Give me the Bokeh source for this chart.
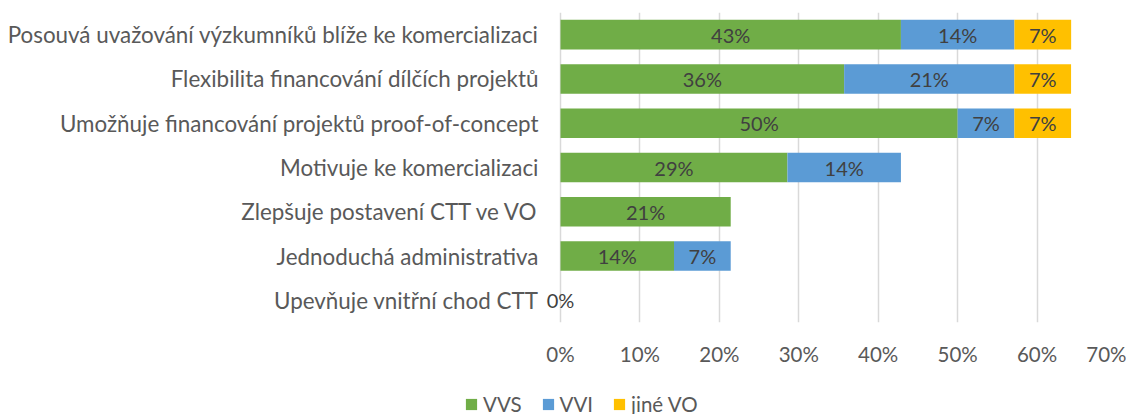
from bokeh.plotting import figure
from bokeh.layouts import column
from bokeh.models import (ColumnDataSource, FactorRange, Legend, LegendItem, FixedTicker,
                          CustomJSTickFormatter, Label)
from bokeh.embed import file_html
from bokeh.resources import INLINE

categories = [
    "Posouvá uvažování výzkumníků blíže ke komercializaci",
    "Flexibilita financování dílčích projektů",
    "Umožňuje financování projektů proof-of-concept",
    "Motivuje ke komercializaci",
    "Zlepšuje postavení CTT ve VO",
    "Jednoduchá administrativa",
    "Upevňuje vnitřní chod CTT",
]
vvs = [42.86, 35.71, 50.0, 28.57, 21.43, 14.29, 0.0]
vvi = [14.29, 21.43, 7.14, 14.29, 0.0, 7.14, 0.0]
jine = [7.14, 7.14, 7.14, 0.0, 0.0, 0.0, 0.0]
series_names = ["VVS", "VVI", "jiné VO"]
colors = ["#70AD47", "#5B9BD5", "#FFC000"]
x_ticks = [0, 10, 20, 30, 40, 50, 60, 70]

FONT = "Lato"
TXT = "#404040"
AX = "#595959"

src = ColumnDataSource(dict(cat=categories, vvs=vvs, vvi=vvi, jine=jine))

yr = FactorRange(*reversed(categories), range_padding=0)
# a little room left of 0 so that the "0%" label is not clipped by the frame
p = figure(frame_width=576, frame_height=310, output_backend="svg", toolbar_location=None,
           y_range=yr, x_range=(-2.518, 70),
           min_border_left=540, min_border_right=10, min_border_top=12, min_border_bottom=0)
p.outline_line_color = None

renderers = p.hbar_stack(["vvs", "vvi", "jine"], y="cat", height=0.667, color=colors,
                         source=src, line_color=None)

factors = list(yr.factors)
for i, c in enumerate(categories):
    yc = factors.index(c) + 0.5  # synthetic coordinate of the factor's centre
    left = 0.0
    for k, vals in enumerate([vvs, vvi, jine]):
        v = vals[i]
        if v > 0 or k == 0:
            p.add_layout(Label(x=left + v / 2, y=yc, text=f"{round(v):d}%",
                               text_align="center", text_baseline="middle",
                               text_font=FONT, text_font_size="20px", text_color=TXT))
        left += v

p.xgrid.ticker = FixedTicker(ticks=x_ticks)
p.xgrid.grid_line_color = "#D9D9D9"
p.xgrid.grid_line_width = 1.5
p.ygrid.grid_line_color = None

p.xaxis.ticker = FixedTicker(ticks=x_ticks)
p.xaxis.formatter = CustomJSTickFormatter(code="return tick.toFixed(0) + '%';")
p.xaxis.axis_line_color = None
p.xaxis.major_tick_line_color = None
p.xaxis.minor_tick_line_color = None
p.xaxis.major_tick_out = 0
p.xaxis.major_tick_in = 0
p.xaxis.major_label_text_font = FONT
p.xaxis.major_label_text_font_size = "20.5px"
p.xaxis.major_label_text_color = AX
p.xaxis.major_label_standoff = 19

p.yaxis.axis_line_color = None
p.yaxis.major_tick_line_color = None
p.yaxis.minor_tick_line_color = None
p.yaxis.major_tick_out = 0
p.yaxis.major_tick_in = 0
p.yaxis.major_label_text_font = FONT
p.yaxis.major_label_text_font_size = "22.4px"
p.yaxis.major_label_text_color = AX
p.yaxis.major_label_standoff = 2

# legend strip below the chart (its helper bars lie outside its visible range)
lg = figure(frame_width=1126, frame_height=48, output_backend="svg", toolbar_location=None,
            x_range=(-20, -10), y_range=(0, 1), min_border=0)
lg.outline_line_color = None
lg.axis.visible = False
lg.grid.visible = False
lg_r = [lg.vbar(x=col, top=1, width=0.5, source=src, fill_color=c, line_color=None)
        for col, c in zip(["vvs", "vvi", "jine"], colors)]
legend = Legend(items=[LegendItem(label=n, renderers=[r]) for n, r in zip(series_names, lg_r)],
                orientation="horizontal", location=(464, 0),
                label_text_font=FONT, label_text_font_size="20.5px", label_text_color=AX,
                glyph_width=14, glyph_height=14, spacing=19, label_standoff=5, label_height=16,
                border_line_color=None, background_fill_alpha=0, padding=0, margin=0)
lg.add_layout(legend, "center")

open("out.html", "w").write(file_html(column(p, lg), INLINE))
